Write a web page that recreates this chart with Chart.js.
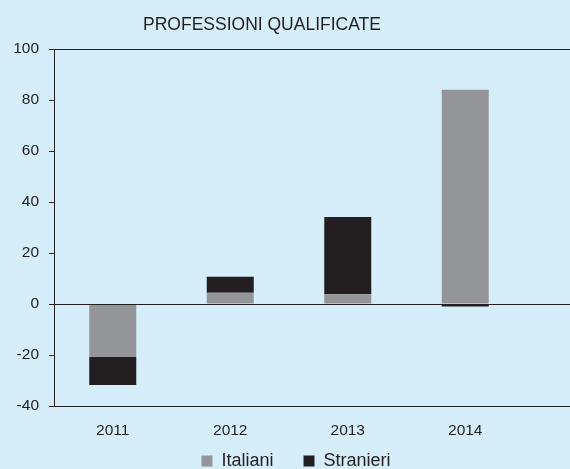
<!DOCTYPE html>
<html>
<head>
<meta charset="utf-8">
<script src="https://cdn.jsdelivr.net/npm/chart.js@4"></script>
<style>
    html, body { margin: 0; padding: 0; background: #d6edfa; }
    #wrap { width: 570px; height: 469px; }
</style>
</head>
<body>
<div id="wrap"><canvas id="chart"></canvas></div>
<script>
var years = ['2011', '2012', '2013', '2014'];
var italiani = [-20.7, 4.4, 3.8, 84];
var stranieri = [-11.1, 6.3, 30.3, -1];
var yTicks = [100, 80, 60, 40, 20, 0, -20, -40];

var lineColor = '#231f20';
var fontName = 'Liberation Sans';

// full width lines at top, zero and bottom
var hLines = {
    id: 'hLines',
    afterDatasetsDraw: function (chart) {
        var ctx = chart.ctx;
        var y = chart.scales.y;
        ctx.save();
        ctx.strokeStyle = lineColor;
        ctx.lineWidth = 1;
        [100, 0, -40].forEach(function (v) {
            var py = Math.round(y.getPixelForValue(v)) + 0.5;
            ctx.beginPath();
            ctx.moveTo(chart.chartArea.left, py);
            ctx.lineTo(chart.width, py);
            ctx.stroke();
        });
        ctx.restore();
    }
};

// move the legend a bit to the right and down
var legendShift = {
    id: 'legendShift',
    afterLayout: function (chart) {
        var lg = chart.legend;
        var h = lg.bottom - lg.top;
        lg.left = 2 * 296 - lg.right;
        lg.top = 422;
        lg.bottom = lg.top + h;
    }
};

new Chart(document.getElementById('chart'), {
    type: 'bar',
    data: {
        labels: years,
        datasets: [{
            label: 'Italiani',
            data: italiani,
            backgroundColor: '#939598',
            barPercentage: 0.4,
            categoryPercentage: 1
        }, {
            label: 'Stranieri',
            data: stranieri,
            backgroundColor: '#231f20',
            barPercentage: 0.4,
            categoryPercentage: 1
        }]
    },
    options: {
        responsive: true,
        maintainAspectRatio: false,
        animation: false,
        layout: { padding: { left: 0, right: 46, top: 3, bottom: -35 } },
        plugins: {
            title: {
                display: true,
                text: 'PROFESSIONI QUALIFICATE',
                color: lineColor,
                font: { family: fontName, size: 17.5, weight: 'normal' },
                padding: { top: 12, bottom: 13 }
            },
            legend: {
                position: 'bottom',
                labels: {
                    color: lineColor,
                    boxWidth: 11,
                    boxHeight: 11,
                    padding: 30,
                    font: { family: fontName, size: 18 }
                }
            },
            tooltip: { enabled: false }
        },
        scales: {
            x: {
                stacked: true,
                grid: { display: false },
                border: { display: false },
                ticks: { color: lineColor, padding: 7, font: { family: fontName, size: 15.5 } },
                afterFit: function (axis) { axis.height = 40; }
            },
            y: {
                stacked: true,
                min: -40,
                max: 100,
                afterBuildTicks: function (axis) {
                    axis.ticks = yTicks.map(function (v) { return { value: v }; });
                },
                grid: { drawOnChartArea: false, tickLength: 5, tickColor: lineColor },
                border: { display: true, color: lineColor },
                ticks: { color: lineColor, padding: 10, font: { family: fontName, size: 15.5 } },
                afterFit: function (axis) { axis.width = 54; }
            }
        }
    },
    plugins: [hLines, legendShift]
});
</script>
</body>
</html>
